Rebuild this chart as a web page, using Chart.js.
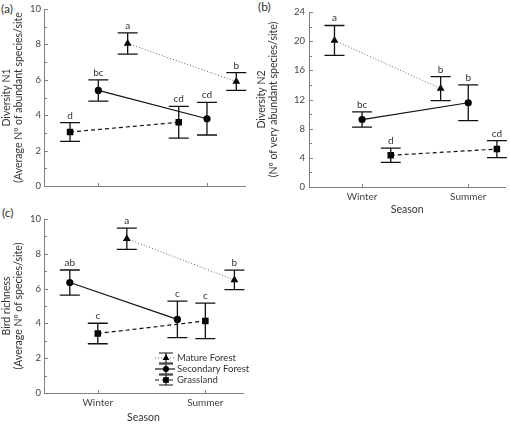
<!DOCTYPE html>
<html>
<head>
<meta charset="utf-8">
<script src="https://cdn.jsdelivr.net/npm/chart.js@4"></script>
<style>
  body { margin: 0; background: #fff; width: 510px; height: 424px; position: relative; overflow: hidden; font-family: Lato, sans-serif; }
  .panel { position: absolute; }
  .tag { position: absolute; font: 12px Lato, sans-serif; color: #333; }
</style>
</head>
<body>
<div class="tag" style="left:1px;top:1px">(a)</div>
<div class="tag" style="left:258px;top:-1px">(b)</div>
<div class="tag" style="left:2px;top:205px">(c)</div>
<div class="panel" style="left:0;top:0;width:250px;height:200px"><canvas id="chartA"></canvas></div>
<div class="panel" style="left:255px;top:0;width:255px;height:216px"><canvas id="chartB"></canvas></div>
<div class="panel" style="left:0;top:205px;width:262px;height:219px"><canvas id="chartC"></canvas></div>
<script>
const seasons = ['Winter', 'Summer'];
const habitats = ['Mature Forest', 'Secondary Forest', 'Grassland'];

// (a) Diversity N1: means, error half-widths, significance letters
const n1Mature = [8.05, 5.9];
const n1MatureErr = [0.6, 0.5];
const n1MatureLetters = ['a', 'b'];
const n1Secondary = [5.4, 3.8];
const n1SecondaryErr = [0.6, 0.92];
const n1SecondaryLetters = ['bc', 'cd'];
const n1Grass = [3.05, 3.6];
const n1GrassErr = [0.53, 0.9];
const n1GrassLetters = ['d', 'cd'];

// (b) Diversity N2
const n2Mature = [20.1, 13.5];
const n2MatureErr = [2.05, 1.65];
const n2MatureLetters = ['a', 'b'];
const n2Secondary = [9.25, 11.55];
const n2SecondaryErr = [1.05, 2.45];
const n2SecondaryLetters = ['bc', 'b'];
const n2Grass = [4.35, 5.2];
const n2GrassErr = [0.97, 1.17];
const n2GrassLetters = ['d', 'cd'];

// (c) Bird richness
const richMature = [8.87, 6.5];
const richMatureErr = [0.61, 0.56];
const richMatureLetters = ['a', 'b'];
const richSecondary = [6.35, 4.23];
const richSecondaryErr = [0.72, 1.05];
const richSecondaryLetters = ['ab', 'c'];
const richGrass = [3.42, 4.14];
const richGrassErr = [0.59, 1.02];
const richGrassLetters = ['c', 'c'];

const FONT = 'Lato';

// line / marker look for each habitat
const styles = {
  mature: { pointStyle: 'triangle', pointRadius: 4.5, borderColor: '#666', borderWidth: 1, borderDash: [1, 2] },
  secondary: { pointStyle: 'circle', pointRadius: 3.6, borderColor: '#111', borderWidth: 1.2, borderDash: [] },
  grass: { pointStyle: 'rect', pointRadius: 4.6, borderColor: '#111', borderWidth: 1.2, borderDash: [4, 3] }
};

function series(label, vals, errs, letters, off, style) {
  return Object.assign({
    label,
    data: vals.map((v, i) => ({ x: i + 1 + off, y: v })),
    errors: errs,
    letters,
    showLine: true,
    fill: false,
    pointBackgroundColor: '#000',
    pointBorderColor: '#000',
    pointBorderWidth: 0
  }, style);
}

// error bars + letters above them
const errorBars = {
  id: 'errorBars',
  afterDatasetsDraw(chart) {
    const { ctx, scales: { y } } = chart;
    ctx.save();
    chart.data.datasets.forEach((ds, i) => {
      chart.getDatasetMeta(i).data.forEach((pt, j) => {
        const top = y.getPixelForValue(ds.data[j].y + ds.errors[j]);
        const bot = y.getPixelForValue(ds.data[j].y - ds.errors[j]);
        ctx.strokeStyle = '#111';
        ctx.lineWidth = 1.3;
        ctx.setLineDash([]);
        ctx.beginPath();
        ctx.moveTo(pt.x, top); ctx.lineTo(pt.x, bot);
        ctx.moveTo(pt.x - 10, top); ctx.lineTo(pt.x + 10, top);
        ctx.moveTo(pt.x - 10, bot); ctx.lineTo(pt.x + 10, bot);
        ctx.stroke();
        ctx.fillStyle = '#333';
        ctx.font = '10px ' + FONT;
        ctx.textAlign = 'center';
        ctx.textBaseline = 'alphabetic';
        ctx.fillText(ds.letters[j], pt.x, top - 4);
      });
    });
    ctx.restore();
  }
};

// ticks pointing into the plot
const inwardTicks = {
  id: 'inwardTicks',
  afterDraw(chart) {
    const { ctx, chartArea: a, scales: { x, y } } = chart;
    ctx.save();
    ctx.strokeStyle = '#808080';
    ctx.lineWidth = 1;
    ctx.beginPath();
    y.ticks.forEach(t => {
      const py = Math.round(y.getPixelForValue(t.value)) + 0.5;
      const len = t.label !== '' ? 4 : 3;
      ctx.moveTo(a.left, py); ctx.lineTo(a.left + len, py);
    });
    x.ticks.forEach(t => {
      const px = Math.round(x.getPixelForValue(t.value)) + 0.5;
      ctx.moveTo(px, a.bottom); ctx.lineTo(px, a.bottom - 3);
    });
    ctx.stroke();
    ctx.restore();
  }
};

// legend inside panel (c)
const innerLegend = {
  id: 'innerLegend',
  afterDraw(chart) {
    if (!chart.options.plugins.innerLegend) return;
    const { ctx, chartArea: a } = chart;
    const cx = a.left + 122;
    const rows = [a.bottom - 35, a.bottom - 24, a.bottom - 13];
    ctx.save();
    chart.data.datasets.forEach((ds, i) => {
      const cy = rows[i];
      ctx.strokeStyle = ds.borderColor;
      ctx.lineWidth = ds.borderWidth;
      ctx.setLineDash(ds.borderDash);
      ctx.beginPath();
      ctx.moveTo(cx - 11, cy); ctx.lineTo(cx + 9, cy);
      ctx.stroke();
      ctx.setLineDash([]);
      ctx.strokeStyle = '#111';
      ctx.lineWidth = 1.1;
      ctx.beginPath();
      ctx.moveTo(cx, cy - 5); ctx.lineTo(cx, cy + 5);
      ctx.moveTo(cx - 7, cy - 5); ctx.lineTo(cx + 7, cy - 5);
      ctx.moveTo(cx - 7, cy + 5); ctx.lineTo(cx + 7, cy + 5);
      ctx.stroke();
      ctx.fillStyle = '#000';
      Chart.helpers.drawPoint(ctx, { pointStyle: ds.pointStyle, radius: ds.pointRadius - 0.6, borderWidth: 0 }, cx, cy);
      ctx.fillStyle = '#333';
      ctx.font = '9.5px ' + FONT;
      ctx.textAlign = 'left';
      ctx.textBaseline = 'middle';
      ctx.fillText(ds.label, cx + 11, cy);
    });
    ctx.restore();
  }
};

function makeChart(id, cfg) {
  const yOpts = {
    min: 0,
    max: cfg.yMax,
    afterFit: s => { s.width = cfg.yWidth; },
    grid: { display: true, drawOnChartArea: false, drawTicks: false },
    border: { color: '#808080', width: 1 },
    ticks: {
      stepSize: cfg.yStep,
      autoSkip: false,
      padding: cfg.yPad,
      color: '#444',
      font: { family: FONT, size: 9.5 },
      callback: v => (v % cfg.yMajor === 0 ? v : '')
    },
    title: { display: true, text: cfg.yTitle, color: '#333', font: { family: FONT, size: 10.5 }, padding: 0 }
  };
  const xOpts = {
    type: 'linear',
    min: 0.5,
    max: 2.35,
    afterBuildTicks: s => { s.ticks = [{ value: 1 }, { value: 2 }]; },
    afterFit: s => { s.height = cfg.xHeight; },
    grid: { display: true, drawOnChartArea: false, drawTicks: false },
    border: { color: '#808080', width: 1 },
    ticks: {
      display: cfg.xLabels,
      padding: 4,
      color: '#444',
      font: { family: FONT, size: 10 },
      callback: v => seasons[v - 1]
    },
    title: { display: cfg.xLabels, text: 'Season', color: '#333', font: { family: FONT, size: 10.5 }, padding: 0 }
  };
  return new Chart(document.getElementById(id), {
    type: 'scatter',
    data: { datasets: cfg.datasets },
    options: {
      responsive: true,
      maintainAspectRatio: false,
      animation: false,
      layout: { padding: cfg.padding },
      scales: { x: xOpts, y: yOpts },
      plugins: { legend: { display: false }, tooltip: { enabled: false }, innerLegend: cfg.legend || false }
    },
    plugins: [errorBars, inwardTicks, innerLegend]
  });
}

makeChart('chartA', {
  yMax: 10, yStep: 1, yMajor: 2, yWidth: 44, yPad: 3, xHeight: 14, xLabels: false,
  padding: { top: 9, right: 5, left: 0, bottom: 0 },
  yTitle: ['Diversity N1', '(Average Nº of abundant species/site'],
  datasets: [
    series(habitats[0], n1Mature, n1MatureErr, n1MatureLetters, 0.27, styles.mature),
    series(habitats[1], n1Secondary, n1SecondaryErr, n1SecondaryLetters, 0, styles.secondary),
    series(habitats[2], n1Grass, n1GrassErr, n1GrassLetters, -0.26, styles.grass)
  ]
});

makeChart('chartB', {
  yMax: 24, yStep: 2, yMajor: 4, yWidth: 54, yPad: 4, xHeight: 29, xLabels: true,
  padding: { top: 12, right: 0, left: 0, bottom: 0 },
  yTitle: ['Diversity N2', '(Nº of very abundant species/site)'],
  datasets: [
    series(habitats[0], n2Mature, n2MatureErr, n2MatureLetters, -0.26, styles.mature),
    series(habitats[1], n2Secondary, n2SecondaryErr, n2SecondaryLetters, 0, styles.secondary),
    series(habitats[2], n2Grass, n2GrassErr, n2GrassLetters, 0.27, styles.grass)
  ]
});

makeChart('chartC', {
  yMax: 10, yStep: 1, yMajor: 2, yWidth: 44, yPad: 3, xHeight: 31, xLabels: true,
  padding: { top: 14, right: 19, left: 0, bottom: 0 },
  yTitle: ['Bird richness', '(Average Nº of species/site)'],
  legend: true,
  datasets: [
    series(habitats[0], richMature, richMatureErr, richMatureLetters, 0.27, styles.mature),
    series(habitats[1], richSecondary, richSecondaryErr, richSecondaryLetters, -0.26, styles.secondary),
    series(habitats[2], richGrass, richGrassErr, richGrassLetters, 0, styles.grass)
  ]
});
</script>
</body>
</html>
